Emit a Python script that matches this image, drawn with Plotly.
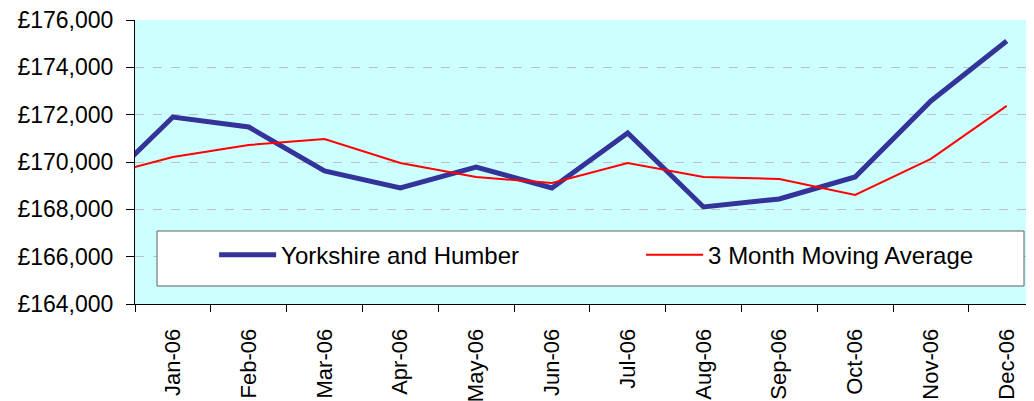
import plotly.graph_objects as go

# Dec-05 is included so the lines enter from the left edge, as in the reference
months = ["Dec-05", "Jan-06", "Feb-06", "Mar-06", "Apr-06", "May-06", "Jun-06",
          "Jul-06", "Aug-06", "Sep-06", "Oct-06", "Nov-06", "Dec-06"]
yorkshire = [168770, 171900, 171480, 169620, 168900, 169790, 168900,
             171230, 168100, 168440, 169370, 172580, 175110]
moving_avg = [169370, 170210, 170720, 170970, 169960, 169370, 169110,
              169960, 169370, 169280, 168610, 170130, 172370]
y_ticks = [164000, 166000, 168000, 170000, 172000, 174000, 176000]
y_tick_labels = ["£164,000", "£166,000", "£168,000", "£170,000", "£172,000", "£174,000", "£176,000"]

FONT = "Liberation Sans, Arial, sans-serif"

fig = go.Figure()
fig.add_trace(go.Scatter(x=months, y=yorkshire, mode="lines", name="Yorkshire and Humber",
                         line=dict(color="#333399", width=5), legendwidth=355))
fig.add_trace(go.Scatter(x=months, y=moving_avg, mode="lines", name="3 Month Moving Average",
                         line=dict(color="#FF0000", width=2), legendwidth=270))

# legend box
fig.add_shape(type="rect", xref="paper", yref="paper",
              x0=0.0245, x1=0.9889, y0=0.0634, y1=0.257,
              fillcolor="white", line=dict(color="#606060", width=1), layer="above")

fig.update_layout(
    width=1026, height=393,
    margin=dict(l=127, r=0, t=12, b=97),
    paper_bgcolor="white", plot_bgcolor="#CCFFFF",
    font=dict(family=FONT, color="black"),
    showlegend=True,
    legend=dict(orientation="h", x=0.088, xanchor="left", y=0.172, yanchor="middle",
                bgcolor="rgba(0,0,0,0)", borderwidth=0, itemwidth=57,
                font=dict(size=24, family=FONT, color="black"),
                traceorder="normal"),
    xaxis=dict(type="category", categoryorder="array", categoryarray=months,
               range=[0.5, 12.36], tickson="boundaries", ticks="outside", ticklen=7,
               tickcolor="black", showline=True, linecolor="black", linewidth=1,
               showgrid=False, tickangle=-90, tickfont=dict(size=22, family=FONT),
               ticklabelstandoff=15, ticklabeloverflow="allow",
               automargin=False, zeroline=False),
    yaxis=dict(range=[164000, 176000], tickvals=y_ticks, ticktext=y_tick_labels,
               ticks="outside", ticklen=8, tickcolor="black", showline=True,
               linecolor="black", linewidth=1, showgrid=True, gridcolor="#C0C0C0",
               griddash="dash", gridwidth=1, tickfont=dict(size=23, family=FONT),
               ticklabelstandoff=8, ticklabeloverflow="allow",
               automargin=False, zeroline=False),
)

fig.write_html("out.html")
